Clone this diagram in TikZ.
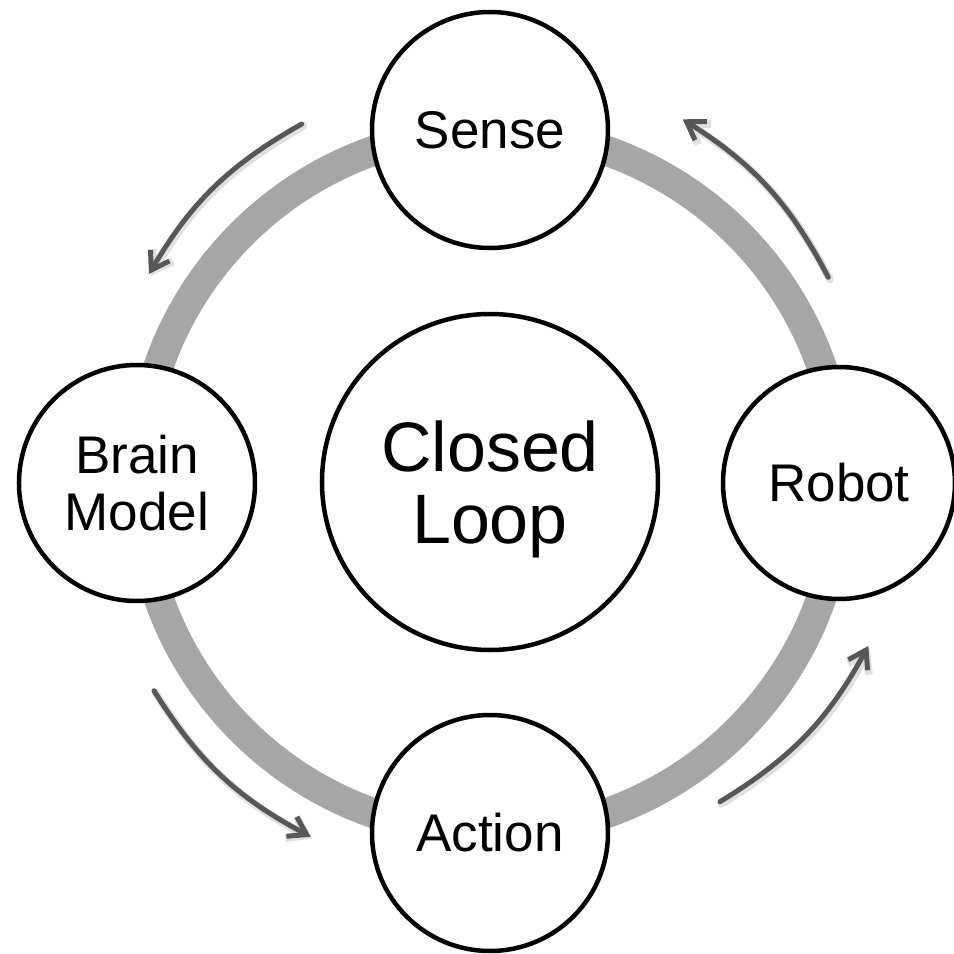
\documentclass[tikz,border=0pt]{standalone}
\usepackage{fontspec}
\setmainfont{Liberation Sans}
\usetikzlibrary{arrows.meta}
\definecolor{ringgray}{HTML}{A6A6A6}
\definecolor{arrowgray}{HTML}{575757}

\begin{document}
\begin{tikzpicture}[x=1pt,y=1pt,
  stage/.style={circle, draw=black, line width=4.5pt, fill=white, inner sep=0pt,
    minimum size=236pt, align=center, font=\fontsize{53}{57}\selectfont},
  hub/.style={circle, draw=black, line width=4.5pt, fill=white, inner sep=0pt,
    minimum size=336pt, align=center, text depth=0pt, font=\fontsize{70}{72}\selectfont},
  flow/.style={draw=arrowgray, line width=5pt, line cap=round,
    -{Straight Barb[length=17pt, width=22pt]}},
  flowshade/.style={draw=black!12, line width=8pt, line cap=round,
    -{Straight Barb[length=17pt, width=24pt]},
    transform canvas={shift={(1.5pt,-2pt)}}}
]
\useasboundingbox (-490,-472) rectangle (464,482);

% the loop itself
\draw[ringgray, line width=30pt] (0,0) circle (351);

% stages on the loop and the hub
\node[hub]   (loop)   at (0,0)      {Closed\\Loop};
\node[stage] (sense)  at (0,352)    {Sense};
\node[stage] (brain)  at (-353,-1)  {Brain\\Model};
\node[stage] (action) at (0,-351)   {Action};
\node[stage, minimum size=232pt] (robot) at (349,-1) {Robot};

% end points of the direction arrows outside the loop
\coordinate (tlA) at (-188.3,358);  \coordinate (tlB) at (-341,208);
\coordinate (blA) at (-336,-208.7); \coordinate (blB) at (-179.3,-354.7);
\coordinate (brA) at (230,-319.7);  \coordinate (brB) at (378.3,-164);
\coordinate (trA) at (338.3,204.7); \coordinate (trB) at (192.7,362.7);

% soft shadows under the arrows
\foreach \a/\b in {tlA/tlB, blA/blB, brA/brB, trA/trB}
  \draw[flowshade] (\a) to[bend right=15] (\b);

% direction arrows
\draw[flow] (tlA) to[bend right=15] (tlB);
\draw[flow] (blA) to[bend right=15] (blB);
\draw[flow] (brA) to[bend right=15] (brB);
\draw[flow] (trA) to[bend right=15] (trB);
\end{tikzpicture}
\end{document}
